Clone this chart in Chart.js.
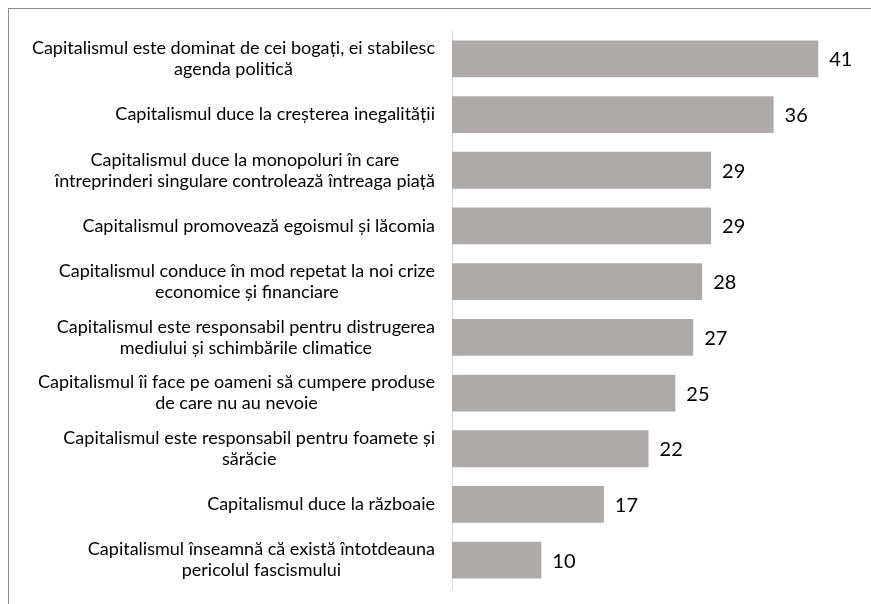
<!DOCTYPE html>
<html lang="ro">
<head>
<meta charset="UTF-8">
<script src="https://cdn.jsdelivr.net/npm/chart.js@4.4.0/dist/chart.umd.min.js"></script>
<style>
  html, body { margin: 0; padding: 0; background: #fff; }
  #frame {
    position: absolute; left: 8px; top: 8px; width: 900px; height: 700px;
    border-left: 1px solid #8c8c8c; border-top: 1px solid #8c8c8c;
  }
  #wrap { position: absolute; left: 0; top: 0; width: 871px; height: 604px; }
</style>
</head>
<body>
<div id="frame"></div>
<div id="wrap"><canvas id="chart1" width="871" height="604"></canvas></div>
<script>
// categories (lines as they wrap in the original)
var categorii = [
    ["Capitalismul este dominat de cei bogați, ei stabilesc", "agenda politică"],
    ["Capitalismul duce la creșterea inegalității"],
    ["Capitalismul duce la monopoluri în care", "întreprinderi singulare controlează întreaga piață"],
    ["Capitalismul promovează egoismul și lăcomia"],
    ["Capitalismul conduce în mod repetat la noi crize", "economice și financiare"],
    ["Capitalismul este responsabil pentru distrugerea", "mediului și schimbările climatice"],
    ["Capitalismul îi face pe oameni să cumpere produse", "de care nu au nevoie"],
    ["Capitalismul este responsabil pentru foamete și", "sărăcie"],
    ["Capitalismul duce la războaie"],
    ["Capitalismul înseamnă că există întotdeauna", "pericolul fascismului"]
];
var valori = [41, 36, 29, 29, 28, 27, 25, 22, 17, 10];

var FONT = 'Lato, "DejaVu Sans", sans-serif';

// category labels: block right-aligned, lines centred with each other
var etichete = {
    id: 'etichete',
    afterDraw: function (chart) {
        var ctx = chart.ctx;
        var y = chart.scales.y;
        var lh = 21;
        ctx.save();
        ctx.font = '18px ' + FONT;
        ctx.fillStyle = '#000';
        ctx.textBaseline = 'middle';
        ctx.textAlign = 'center';
        categorii.forEach(function (lines, i) {
            var cy = y.getPixelForTick(i);
            var w = Math.max.apply(null, lines.map(function (l) { return ctx.measureText(l).width; }));
            var cx = y.right - 17 - w / 2;
            lines.forEach(function (l, j) {
                ctx.fillText(l, cx, cy + (j - (lines.length - 1) / 2) * lh);
            });
        });
        // values at the bar ends
        ctx.font = '20px ' + FONT;
        ctx.textAlign = 'left';
        chart.getDatasetMeta(0).data.forEach(function (bar, i) {
            ctx.fillText(valori[i], bar.x + 11, bar.y + 1);
        });
        ctx.restore();
    }
};

var ctx = document.getElementById('chart1').getContext('2d');
var myChart = new Chart(ctx, {
    type: 'bar',
    data: {
        labels: categorii.map(function (c) { return c.join(' '); }),
        datasets: [{
            data: valori,
            backgroundColor: '#aeaaaa',
            barPercentage: 0.66,
            categoryPercentage: 1
        }]
    },
    options: {
        indexAxis: 'y',
        responsive: false,
        animation: false,
        layout: { padding: { top: 31, bottom: 16, right: 17, left: 0 } },
        plugins: { legend: { display: false }, tooltip: { enabled: false } },
        scales: {
            x: {
                display: false,
                min: 0,
                max: 45
            },
            y: {
                grid: { display: false },
                border: { display: true, color: '#d9d9d9', width: 1 },
                ticks: { display: false },
                afterFit: function (scale) { scale.width = 452; }
            }
        }
    },
    plugins: [etichete]
});
</script>
</body>
</html>
